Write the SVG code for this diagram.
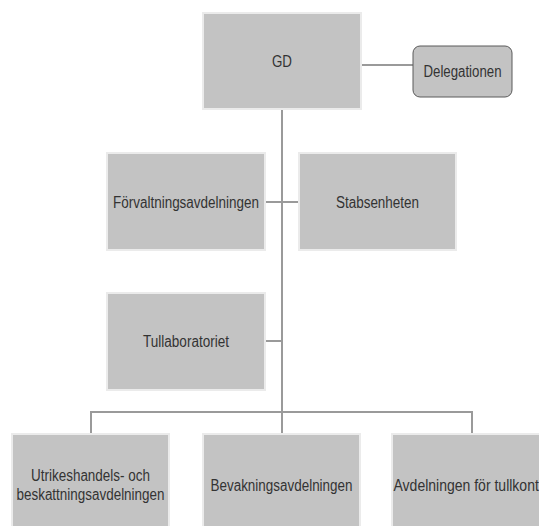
<svg xmlns="http://www.w3.org/2000/svg" width="539" height="526" viewBox="0 0 539 526">
<style>
.box{fill:#c3c3c3;stroke:#ebebeb;stroke-width:2}
.deleg{fill:#c3c3c3;stroke:#5a5a5a;stroke-width:1}
.lbl{font-family:"Liberation Sans",Arial,sans-serif;font-size:16px;fill:#333;text-anchor:middle}
.conn{fill:none;stroke:#9a9a9a;stroke-width:2}
</style>
<rect width="539" height="526" fill="#fff"/>
<g id="connectors">
<path class="conn" d="M361 65H413"/>
<path class="conn" d="M282 109V412"/>
<path class="conn" d="M265 202H299"/>
<path class="conn" d="M265 341H282"/>
<path class="conn" d="M91 434V412H472V434M282 412V434"/>
</g>
<g id="gd">
<rect class="box" x="203" y="13" width="158" height="96"/>
<text class="lbl" x="282" y="67" textLength="20" lengthAdjust="spacingAndGlyphs">GD</text>
</g>
<g id="delegationen">
<rect class="deleg" x="413" y="46" width="99" height="51" rx="7"/>
<text class="lbl" x="462.5" y="77" textLength="78" lengthAdjust="spacingAndGlyphs">Delegationen</text>
</g>
<g id="forvaltningsavdelningen">
<rect class="box" x="107" y="153" width="158" height="97"/>
<text class="lbl" x="186" y="207.5" textLength="146" lengthAdjust="spacingAndGlyphs">Förvaltningsavdelningen</text>
</g>
<g id="stabsenheten">
<rect class="box" x="299" y="153" width="157" height="97"/>
<text class="lbl" x="377.5" y="207.5" textLength="83" lengthAdjust="spacingAndGlyphs">Stabsenheten</text>
</g>
<g id="tullaboratoriet">
<rect class="box" x="107" y="293" width="158" height="97"/>
<text class="lbl" x="186" y="347" textLength="86" lengthAdjust="spacingAndGlyphs">Tullaboratoriet</text>
</g>
<g id="utrikeshandel">
<rect class="box" x="12" y="434" width="157" height="97"/>
<text class="lbl" x="90.5" y="481" textLength="119" lengthAdjust="spacingAndGlyphs">Utrikeshandels- och</text>
<text class="lbl" x="90.5" y="500" textLength="148" lengthAdjust="spacingAndGlyphs">beskattningsavdelningen</text>
</g>
<g id="bevakning">
<rect class="box" x="203" y="434" width="157" height="97"/>
<text class="lbl" x="281.5" y="491" textLength="142" lengthAdjust="spacingAndGlyphs">Bevakningsavdelningen</text>
</g>
<g id="tullkontroll">
<rect class="box" x="392" y="434" width="157" height="97"/>
<text class="lbl" x="393.5" y="491" style="text-anchor:start" textLength="164" lengthAdjust="spacingAndGlyphs">Avdelningen för tullkontroll</text>
</g>
</svg>
